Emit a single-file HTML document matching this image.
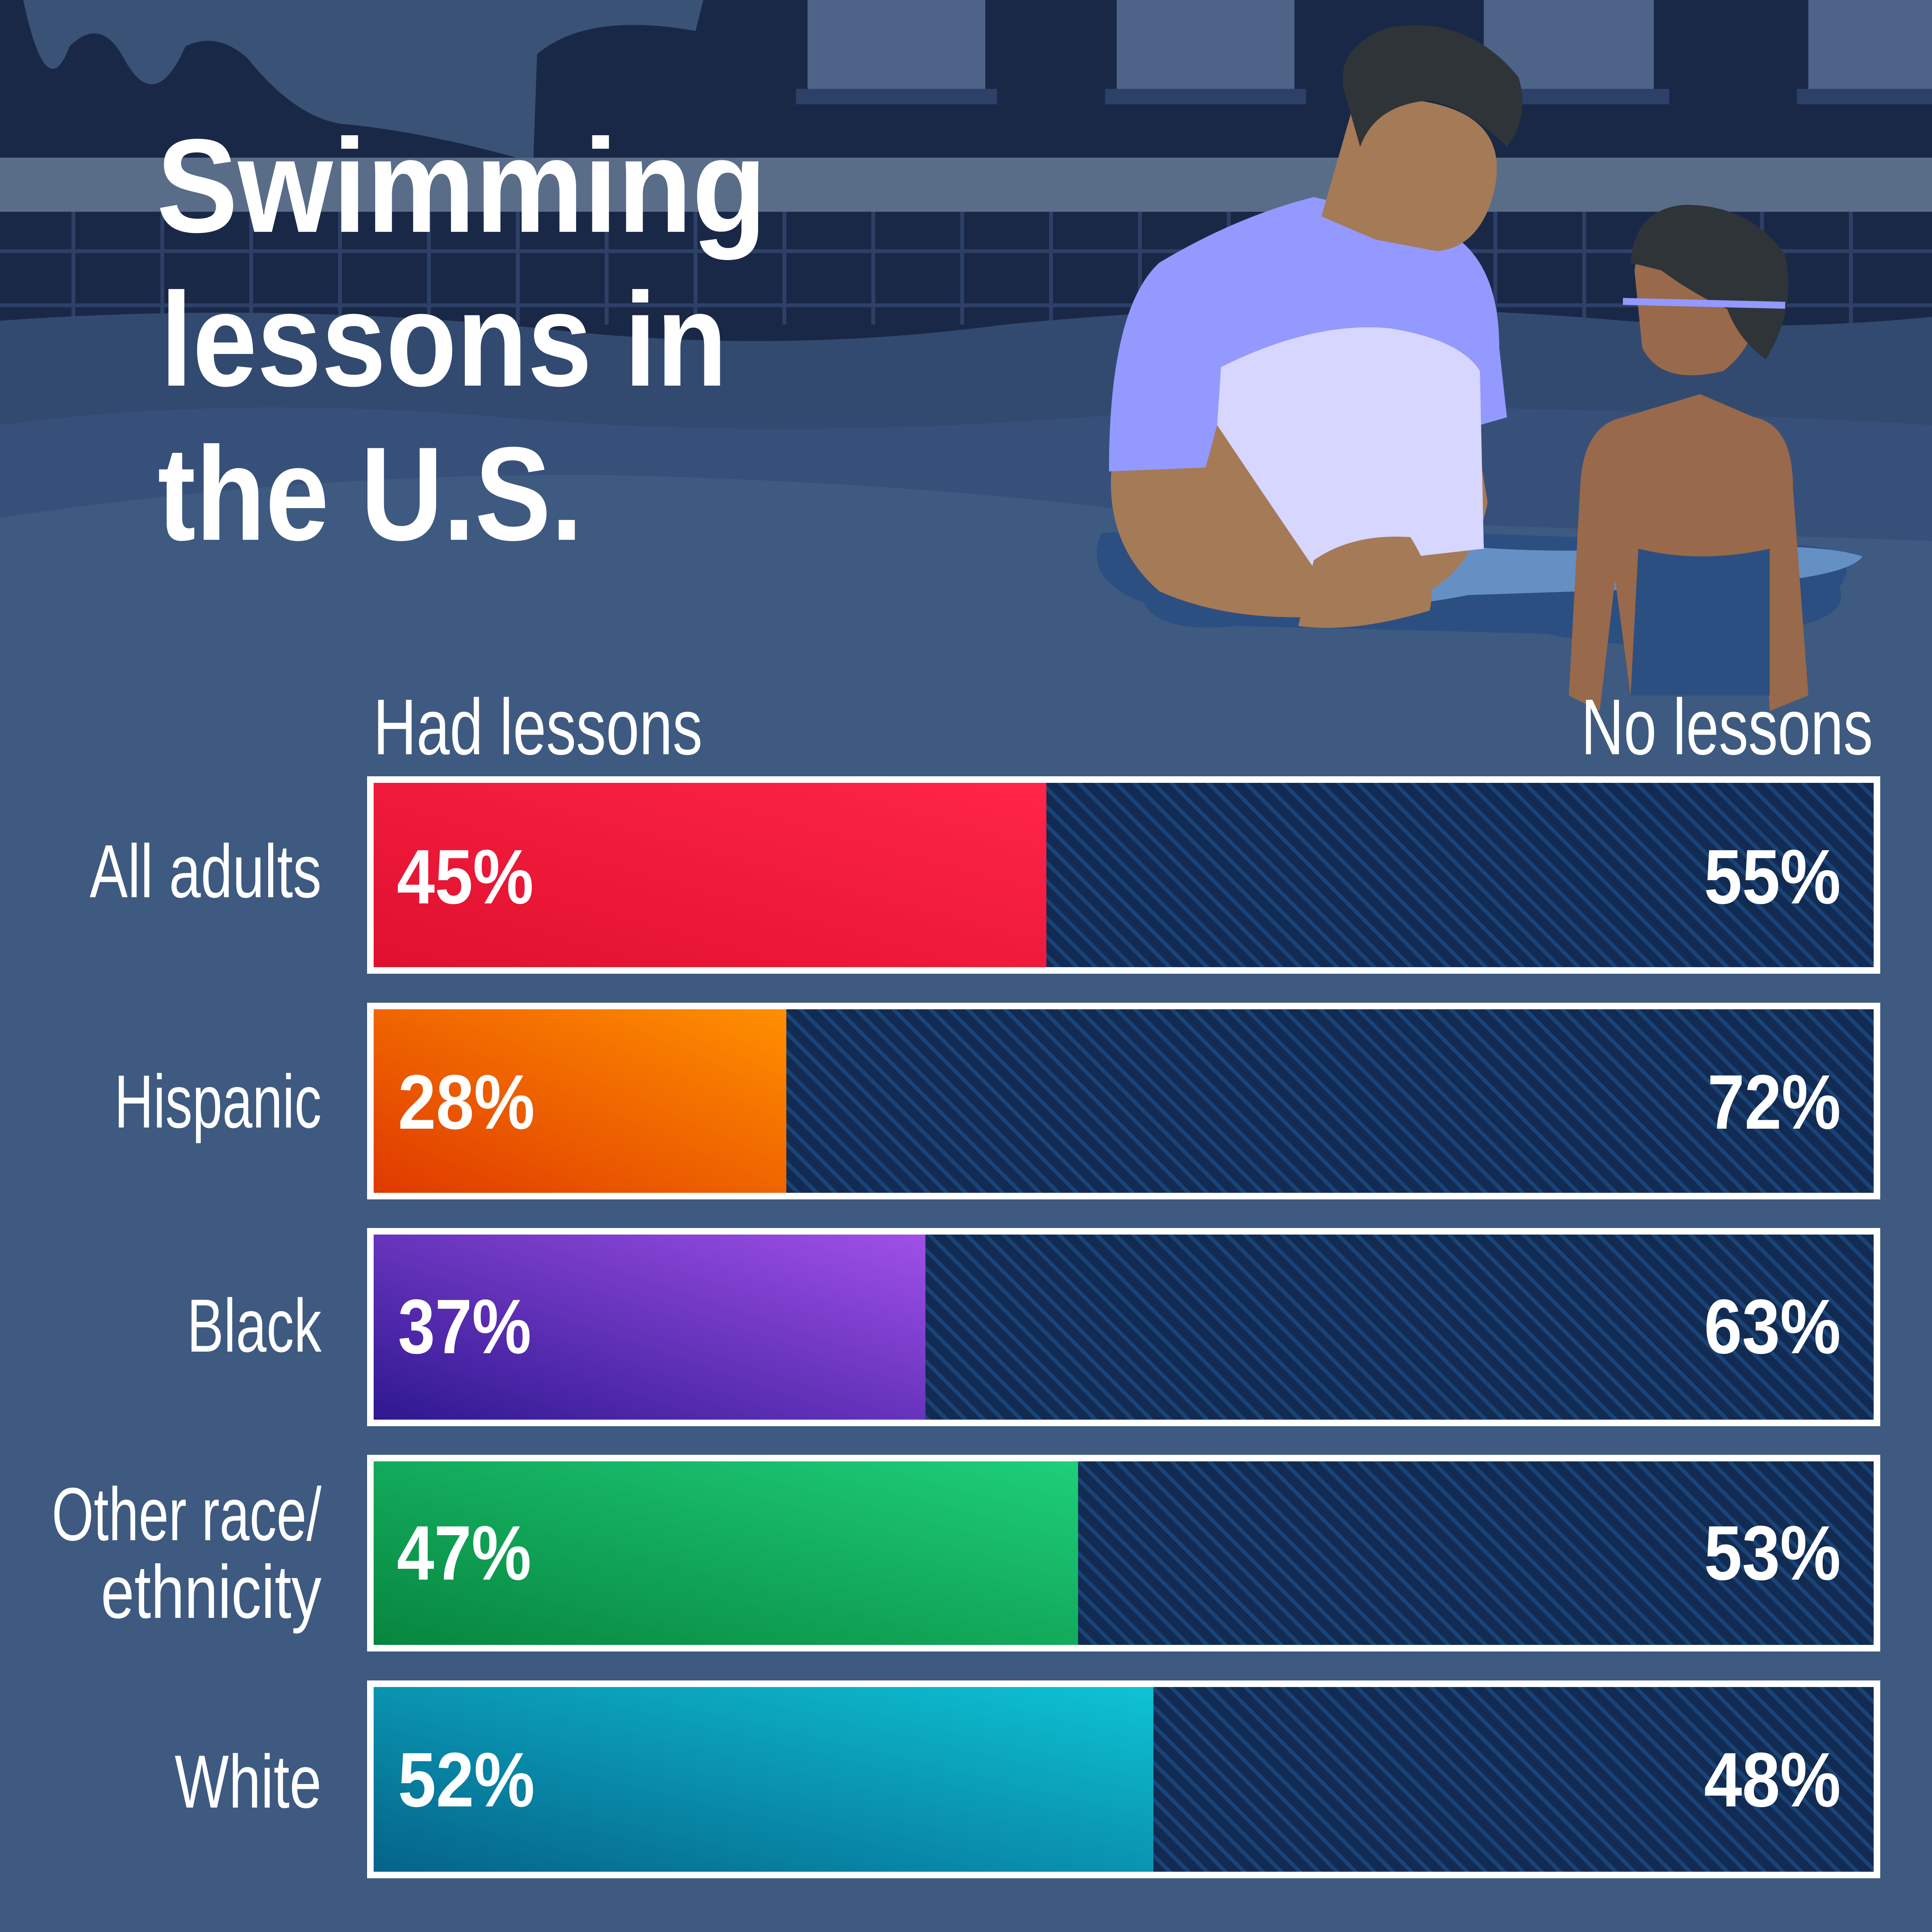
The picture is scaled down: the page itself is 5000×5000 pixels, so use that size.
<!DOCTYPE html>
<html><head><meta charset="utf-8"><style>
html,body{margin:0;padding:0;background:#3e5a80;width:5000px;height:5000px;overflow:hidden}
svg{display:block;position:absolute;left:0;top:0}
.bar{position:absolute;left:950px;width:3916px;box-sizing:border-box;border:17px solid #fff;
background:repeating-linear-gradient(45deg,#122b52 0px,#122b52 24px,#1a4477 24px,#1a4477 34px)}
.fill{position:absolute;left:0;top:0;bottom:0}
</style></head>
<body>
<svg width="5000" height="2000" viewBox="0 0 5000 2000" xmlns="http://www.w3.org/2000/svg">
<rect width="5000" height="2000" fill="#3e5a80"/>
<rect x="0" y="0" width="5000" height="900" fill="#1a2847"/>
<path d="M60 0 Q120 280 180 120 Q260 40 320 150 Q400 300 480 120 Q560 80 640 150 Q760 300 880 320 Q1100 340 1380 420 L1390 140 Q1520 30 1800 80 L1820 0Z" fill="#3a5276"/>
<g fill="#4d6387"><rect x="2090" y="0" width="460" height="230"/><rect x="2890" y="0" width="460" height="230"/><rect x="3840" y="0" width="440" height="230"/><rect x="4680" y="0" width="320" height="230"/></g>
<g fill="#2c4068"><rect x="2060" y="230" width="520" height="40"/><rect x="2860" y="230" width="520" height="40"/><rect x="3800" y="230" width="520" height="40"/><rect x="4650" y="230" width="350" height="40"/></g>
<rect x="0" y="408" width="5000" height="140" fill="#596d89"/>
<g stroke="#2c4068" stroke-width="10">
<path d="M190 548V840M420 548V840M650 548V840M880 548V840M1110 548V840M1340 548V840M1570 548V840M1800 548V840M2030 548V840M2260 548V840M2490 548V840M2720 548V840M2950 548V840M3180 548V840M3410 548V840M3640 548V840M3870 548V840M4100 548V840M4330 548V840M4560 548V840M4790 548V840"/>
<path d="M0 650H5000M0 790H5000"/>
</g>
<path d="M0 830 Q700 780 1400 850 Q2000 920 2600 840 Q3400 760 4200 830 Q4600 860 5000 820 V1400 H0Z" fill="#324a70"/>
<path d="M0 1100 Q600 1020 1300 1080 Q2000 1140 2800 1080 Q3600 1020 5000 1100 V1500 H0Z" fill="#37507a"/>
<path d="M0 1340 Q800 1220 1600 1230 Q2400 1250 3000 1330 L5000 1400 V2000 H0Z" fill="#3e5a80"/>
<path d="M2850 1380 Q2800 1500 2960 1560 Q3000 1640 3200 1620 L4000 1640 Q4300 1700 4500 1640 Q4800 1620 4760 1520 Q4830 1420 4650 1410 L3800 1380 Q3300 1350 2850 1380Z" fill="#2c4f82"/>
<path d="M3050 1420 Q3000 1520 3150 1560 Q3500 1600 3800 1540 L4400 1520 Q4780 1500 4820 1440 Q4700 1400 4300 1420 Q3800 1440 3600 1380 Q3300 1360 3050 1420Z" fill="#6490c4"/>
<path d="M2880 1180 Q2850 1400 3000 1530 Q3200 1620 3500 1590 Q3800 1560 3850 1300 L3800 1000 L2900 1100Z" fill="#a57a56"/>
<path d="M2870 1220 Q2870 800 3000 680 Q3200 560 3400 510 L3700 580 Q3880 640 3880 900 L3900 1080 L3830 1100 L3840 1420 L3400 1460 Q3300 1320 3150 1100 L3120 1210 Z" fill="#9399fe"/>
<path d="M3160 950 Q3400 830 3600 850 Q3780 880 3830 960 L3840 1420 L3400 1470 Q3250 1250 3150 1100Z" fill="#d6d6fe"/>
<path d="M3500 280 Q3600 240 3720 270 Q3920 320 3860 520 Q3820 640 3720 650 L3560 620 L3420 560 Z" fill="#a57a56"/>
<path d="M3480 240 Q3450 120 3600 70 Q3800 40 3930 200 Q3960 300 3900 380 Q3800 280 3700 260 Q3560 270 3520 380 Z" fill="#2f3438"/>
<path d="M3400 1450 Q3500 1380 3650 1390 Q3720 1500 3700 1580 Q3500 1640 3360 1620Z" fill="#a57a56"/>
<path d="M4200 1080 Q4100 1100 4090 1250 L4060 1800 L4140 1840 L4180 1500 L4220 1800 L4540 1800 L4560 1500 L4580 1840 L4680 1800 L4640 1260 Q4640 1100 4540 1080 L4400 1020Z" fill="#98694a"/>
<path d="M4240 1420 Q4400 1460 4580 1420 L4580 1800 L4220 1800Z" fill="#2c4f82"/>
<path d="M4230 700 Q4250 560 4380 560 Q4560 580 4560 780 Q4540 900 4460 960 Q4300 1000 4250 900Z" fill="#98694a"/>
<path d="M4220 680 Q4230 540 4360 530 Q4530 530 4620 660 Q4650 800 4570 930 Q4500 880 4470 800 Q4380 760 4300 700Z" fill="#2f3438"/>
<path d="M4200 780 L4620 790" stroke="#9399fe" stroke-width="18"/>
<g font-family="Liberation Sans, sans-serif" font-weight="bold" fill="#fff" font-size="345">
<text x="405" y="600" textLength="1579" lengthAdjust="spacingAndGlyphs">Swimming</text>
<text x="415" y="998" textLength="1467" lengthAdjust="spacingAndGlyphs">lessons in</text>
<text x="408" y="1397" textLength="1100" lengthAdjust="spacingAndGlyphs">the U.S.</text>
</g>
<g font-family="Liberation Sans, sans-serif" fill="#fff" font-size="205">
<text x="966" y="1952" textLength="852" lengthAdjust="spacingAndGlyphs">Had lessons</text>
<text x="4092" y="1952" textLength="755" lengthAdjust="spacingAndGlyphs">No lessons</text>
</g>
</svg>

<div class="bar" style="top:2009px;height:511px"><div class="fill" style="width:1741px;background:linear-gradient(to top right,#e0102e,#ff2548)"></div></div>
<div class="bar" style="top:2595px;height:509px"><div class="fill" style="width:1068px;background:linear-gradient(to top right,#df3a00,#ff8f00)"></div></div>
<div class="bar" style="top:3178px;height:513px"><div class="fill" style="width:1428px;background:linear-gradient(to top right,#2e1890,#a050e8)"></div></div>
<div class="bar" style="top:3765px;height:509px"><div class="fill" style="width:1823px;background:linear-gradient(to top right,#07853e,#1ecf7a)"></div></div>
<div class="bar" style="top:4349px;height:512px"><div class="fill" style="width:2018px;background:linear-gradient(to top right,#05638a,#0ec3d4)"></div></div>

<svg width="5000" height="5000" viewBox="0 0 5000 5000" xmlns="http://www.w3.org/2000/svg" style="pointer-events:none">
<g font-family="Liberation Sans, sans-serif" fill="#fff" font-size="195" text-anchor="end">
<text x="832" y="2322" textLength="600" lengthAdjust="spacingAndGlyphs">All adults</text>
<text x="832" y="2918" textLength="536" lengthAdjust="spacingAndGlyphs">Hispanic</text>
<text x="832" y="3498" textLength="348" lengthAdjust="spacingAndGlyphs">Black</text>
<text x="832" y="3986" textLength="698" lengthAdjust="spacingAndGlyphs">Other race/</text>
<text x="832" y="4187" textLength="571" lengthAdjust="spacingAndGlyphs">ethnicity</text>
<text x="832" y="4678" textLength="380" lengthAdjust="spacingAndGlyphs">White</text>
</g>
<g font-family="Liberation Sans, sans-serif" font-weight="bold" fill="#fff" font-size="200">
<text x="1027" y="2338" textLength="354" lengthAdjust="spacingAndGlyphs">45%</text>
<text x="1030" y="2921" textLength="354" lengthAdjust="spacingAndGlyphs">28%</text>
<text x="1030" y="3502" textLength="345" lengthAdjust="spacingAndGlyphs">37%</text>
<text x="1027" y="4088" textLength="348" lengthAdjust="spacingAndGlyphs">47%</text>
<text x="1030" y="4675" textLength="354" lengthAdjust="spacingAndGlyphs">52%</text>
</g>
<g font-family="Liberation Sans, sans-serif" font-weight="bold" fill="#fff" font-size="200" text-anchor="end">
<text x="4764" y="2338" textLength="354" lengthAdjust="spacingAndGlyphs">55%</text>
<text x="4764" y="2921" textLength="345" lengthAdjust="spacingAndGlyphs">72%</text>
<text x="4764" y="3502" textLength="354" lengthAdjust="spacingAndGlyphs">63%</text>
<text x="4764" y="4088" textLength="354" lengthAdjust="spacingAndGlyphs">53%</text>
<text x="4764" y="4675" textLength="354" lengthAdjust="spacingAndGlyphs">48%</text>
</g>
</svg>
</body></html>
